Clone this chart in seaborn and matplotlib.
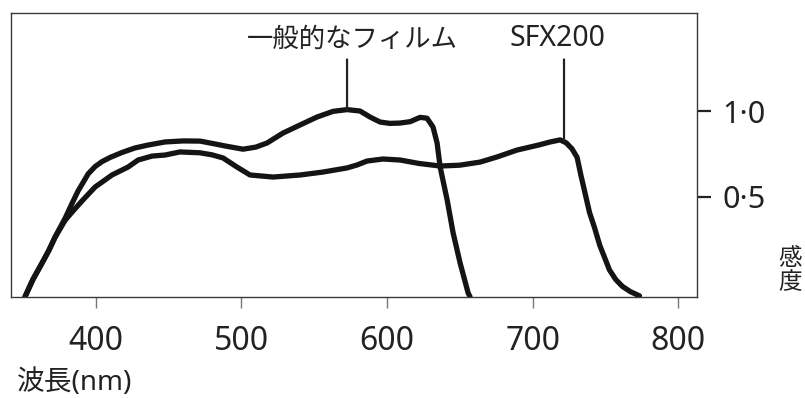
import numpy as np
import pandas as pd
import seaborn as sns
import matplotlib
matplotlib.use("Agg")
import matplotlib.pyplot as plt

# spectral sensitivity curves (wavelength nm, sensitivity)
general_nm = [351.6, 357.0, 363.3, 368.0, 372.2, 379.2, 384.0, 388.0, 394.9, 399.7,
              404.5, 410.0, 418.2, 427.0, 436.0, 447.7, 460.1, 471.7, 478.6, 490.0,
              501.2, 510.0, 517.7, 528.7, 540.4, 552.0, 563.0, 572.6, 581.5, 588.4,
              595.2, 602.0, 609.0, 615.9, 622.7, 627.5, 631.6, 634.4, 636.5, 641.3,
              645.4, 650.2, 655.7, 657.0]
general_val = [-0.08, 0.02, 0.116, 0.19, 0.267, 0.378, 0.465, 0.535, 0.634, 0.677,
               0.706, 0.73, 0.759, 0.785, 0.802, 0.82, 0.826, 0.825, 0.814, 0.795,
               0.778, 0.79, 0.814, 0.872, 0.919, 0.965, 0.998, 1.008, 1.0, 0.965,
               0.936, 0.928, 0.93, 0.938, 0.963, 0.958, 0.907, 0.814, 0.674, 0.483,
               0.291, 0.116, -0.058, -0.08]

sfx_nm = [351.6, 357.0, 363.3, 368.0, 372.2, 379.2, 384.6, 390.7, 399.7, 411.3,
          422.3, 429.2, 438.8, 447.7, 458.0, 471.7, 480.0, 487.5, 497.1, 506.0,
          521.8, 540.4, 556.0, 572.6, 579.4, 586.3, 597.3, 609.0, 622.0, 636.5,
          650.0, 663.9, 675.6, 689.3, 704.0, 712.0, 718.8, 723.0, 727.0, 730.5,
          733.0, 736.0, 739.0, 742.5, 746.0, 752.7, 757.0, 761.6, 767.0, 773.3]
sfx_val = [-0.08, 0.02, 0.116, 0.19, 0.265, 0.366, 0.419, 0.477, 0.558, 0.628,
           0.674, 0.715, 0.738, 0.744, 0.762, 0.757, 0.745, 0.727, 0.674, 0.628,
           0.616, 0.628, 0.645, 0.669, 0.686, 0.709, 0.721, 0.715, 0.695, 0.68,
           0.685, 0.703, 0.733, 0.773, 0.802, 0.82, 0.832, 0.815, 0.78, 0.73,
           0.63, 0.52, 0.41, 0.32, 0.22, 0.076, 0.02, -0.02, -0.05, -0.075]

x_ticks = [400, 500, 600, 700, 800]
y_ticks = [0.5, 1.0]
y_tick_labels = ["0·5", "1·0"]

# label, x of leader line, y where leader meets the curve
annotations = [("一般的なフィルム", 572.6, 1.008), ("SFX200", 721.5, 0.83)]

sns.set_style("white")
plt.rcParams['font.family'] = ['Noto Sans', 'Noto Sans CJK JP', 'DejaVu Sans']

fig = plt.figure(figsize=(8.05, 3.98), dpi=100)
ax = fig.add_axes([0.0137, 0.2538, 0.8522, 0.7136])

df = pd.concat([
    pd.DataFrame({'nm': general_nm, 'val': general_val, 'film': 'general'}),
    pd.DataFrame({'nm': sfx_nm, 'val': sfx_val, 'film': 'sfx'}),
])
sns.lineplot(data=df, x='nm', y='val', units='film', estimator=None, sort=False,
             color='#141414', linewidth=3.8, ax=ax, legend=False)
for line in ax.lines:
    line.set_solid_capstyle('round')
    line.set_solid_joinstyle('round')

ax.set_xlim(342.0, 812.8)
ax.set_ylim(-0.0814, 1.57)

# label text: small horizontal nudge (points) and font size
label_style = [(4, 19), (-5, 20.5)]
for (label, x, y), (dx, size) in zip(annotations, label_style):
    ax.annotate('', xy=(x, y), xytext=(x, 1.30),
                arrowprops=dict(arrowstyle='-', color='#222222', lw=1.6,
                                shrinkA=0, shrinkB=0))
    ax.annotate(label, xy=(x, 1.335), xytext=(dx, 0), textcoords='offset points',
                ha='center', va='bottom', fontsize=size, color='#222222')

for s in ax.spines.values():
    s.set_color('#3a3a3a')
    s.set_linewidth(1.0)

ax.yaxis.tick_right()
ax.set_xticks(x_ticks)
ax.set_xticklabels([str(t) for t in x_ticks])
ax.set_yticks(y_ticks)
ax.set_yticklabels(y_tick_labels)
ax.tick_params(axis='x', direction='out', length=8, width=1.0, color='#777777',
               pad=12, labelsize=23, labelcolor='#222222', bottom=True)
ax.tick_params(axis='y', direction='out', length=10, width=1.6, color='#222222',
               pad=8, labelsize=22, labelcolor='#222222', right=True, left=False)
ax.set_xlabel('')
ax.set_ylabel('')

fig.text(0.0211, 0.003, "波長(nm)", ha='left', va='bottom', fontsize=20, color='#222222')
fig.text(0.9814, 0.3191, "感\n度", ha='center', va='center', fontsize=17,
         linespacing=1.0, color='#222222')

fig.savefig("out.png", dpi=100, facecolor='white')
